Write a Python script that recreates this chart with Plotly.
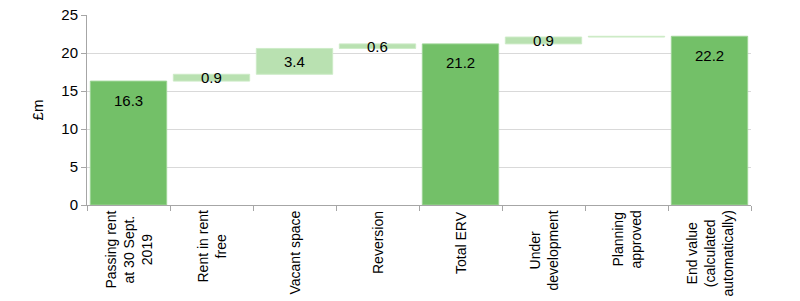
import plotly.graph_objects as go

categories = ["Passing rent<br>at 30 Sept.<br>2019", "Rent in rent<br>free", "Vacant space", "Reversion",
              "Total ERV", "Under<br>development", "Planning<br>approved",
              "End value<br>(calculated<br>automatically)"]
measures = ["absolute", "relative", "relative", "relative", "total", "relative", "relative", "total"]
values = [16.3, 0.9, 3.4, 0.6, 0, 0.9, 0.1, 0]
labels = ["16.3", "0.9", "3.4", "0.6", "21.2", "0.9", "", "22.2"]
y_ticks = [0, 5, 10, 15, 20, 25]

FONT = "Liberation Sans, Arial, sans-serif"
FS = 14
DARK = "#73C068"
LIGHT = "#B9E1B1"

fig = go.Figure(go.Waterfall(
    x=categories, y=values, measure=measures,
    totals=dict(marker=dict(color=DARK, line=dict(color="#9ED596", width=1))),
    increasing=dict(marker=dict(color=LIGHT, line=dict(color="#CDEBC7", width=1))),
    decreasing=dict(marker=dict(color=LIGHT)),
    connector=dict(visible=False),
    hoverinfo="skip",
))

# value labels computed from the data
running = 0.0
for cat, m, v, lab in zip(categories, measures, values, labels):
    if m == "absolute":
        lo, hi = 0, v
        running = v
        kind = "total"
    elif m == "total":
        lo, hi = 0, running
        kind = "total"
    else:
        lo, hi = running, running + v
        running = running + v
        kind = "inc"
    if lab:
        if kind == "total":
            fig.add_annotation(x=cat, y=hi, text=lab, showarrow=False, yanchor="middle", yshift=-19,
                               font=dict(family=FONT, size=15, color="#000"))
        else:
            fig.add_annotation(x=cat, y=(lo + hi) / 2, text=lab, showarrow=False, yanchor="middle",
                               font=dict(family=FONT, size=15, color="#000"))

# category labels (rotated, lines centred)
for cat in categories:
    fig.add_annotation(x=cat, xref="x", y=0, yref="paper", yanchor="top", xanchor="center",
                       yshift=-4, text=cat, textangle=-90, align="center", showarrow=False,
                       font=dict(family=FONT, size=FS, color="#000"))

fig.update_layout(
    width=800, height=301,
    margin=dict(l=87, r=49, t=15, b=96),
    paper_bgcolor="white", plot_bgcolor="white",
    font=dict(family=FONT, size=FS, color="#000"),
    waterfallgap=0.08,
    showlegend=False,
)
fig.update_xaxes(
    showticklabels=False, automargin=False,
    showline=True, linecolor="#A6A6A6", linewidth=1,
    ticks="outside", ticklen=5, tickcolor="#A6A6A6", tickson="boundaries",
    showgrid=False,
)
fig.update_yaxes(
    range=[0, 25], tickvals=y_ticks, showline=True, linecolor="#A6A6A6", linewidth=1,
    ticks="outside", ticklen=5, tickcolor="#A6A6A6", automargin=False,
    showgrid=True, gridcolor="#D9D9D9", gridwidth=1, zeroline=False,
    title=dict(text="£m", standoff=14, font=dict(family=FONT, size=15)),
    tickfont=dict(family=FONT, size=15),
)

fig.write_html("out.html")
